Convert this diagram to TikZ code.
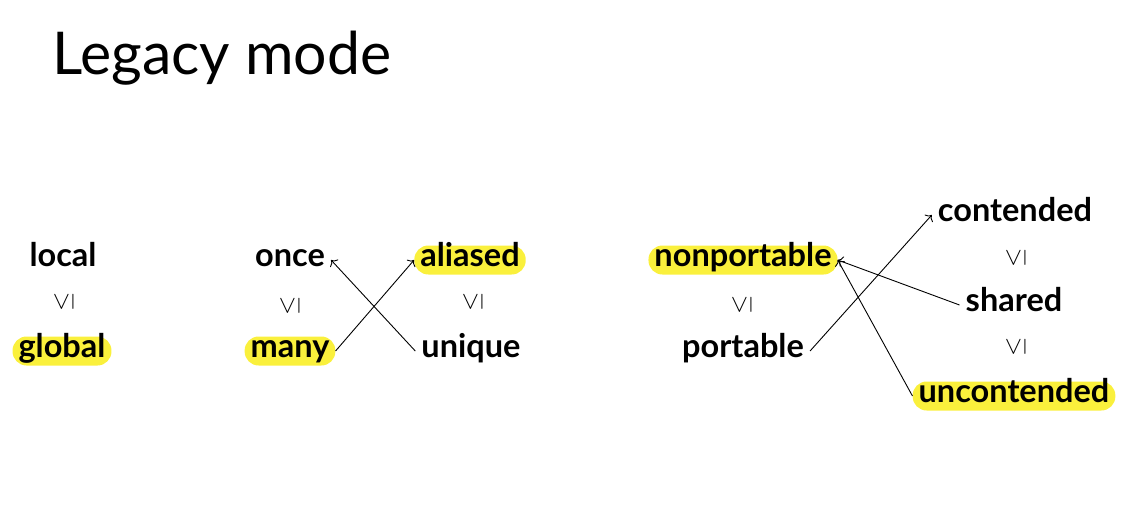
\documentclass[tikz,border=0pt]{standalone}
\usepackage{fontspec}
\setmainfont{Lato}
\usetikzlibrary{arrows.meta}
\definecolor{marker}{RGB}{250,240,60}

\begin{document}
\begin{tikzpicture}
  [x=1pt,y=-1pt,
   word/.style={font=\fontsize{32.5}{32.5}\selectfont\bfseries,inner xsep=6pt,inner ysep=0pt,
                text height=21pt,text depth=8pt},
   hl/.style={word,fill=marker,rounded corners=14pt},
   leq/.style={font=\fontsize{37}{37}\selectfont,rotate=90,inner sep=0pt}]
  \useasboundingbox (0,0) rectangle (1130,522);
  \node[anchor=base west,inner sep=0pt,font=\fontsize{59}{59}\selectfont] (title) at (52,74) {Legacy mode};
  % first lattice
  \node[word] (local) at (63,260) {local};
  \node[hl] (global) at (62,351) {global};
  % second lattice
  \node[word] (once) at (290,260) {once};
  \node[hl] (many) at (290,351) {many};
  \node[hl] (aliased) at (470,260) {aliased};
  \node[word] (unique) at (471,351) {unique};
  % third lattice
  \node[hl] (nonportable) at (743,260) {nonportable};
  \node[word] (portable) at (743,351) {portable};
  \node[word] (contended) at (1015,215) {contended};
  \node[word] (shared) at (1014,305) {shared};
  \node[hl] (uncontended) at (1014,396) {uncontended};
  \foreach \n/\x/\y in {l1/64/302,l2/290/306,l3/473/302,l4/742/305,l5/1016/258,l6/1016/347}
    \node[leq] (\n) at (\x,\y) {$\leq$};
  \foreach \from/\to in {many.east/aliased.west,unique.west/once.east,portable.east/contended.west,
                         shared.west/nonportable.east,uncontended.west/nonportable.east}
    \draw[-{To[length=5pt,width=11pt]},line width=0.9pt] (\from) -- (\to);
\end{tikzpicture}
\end{document}
